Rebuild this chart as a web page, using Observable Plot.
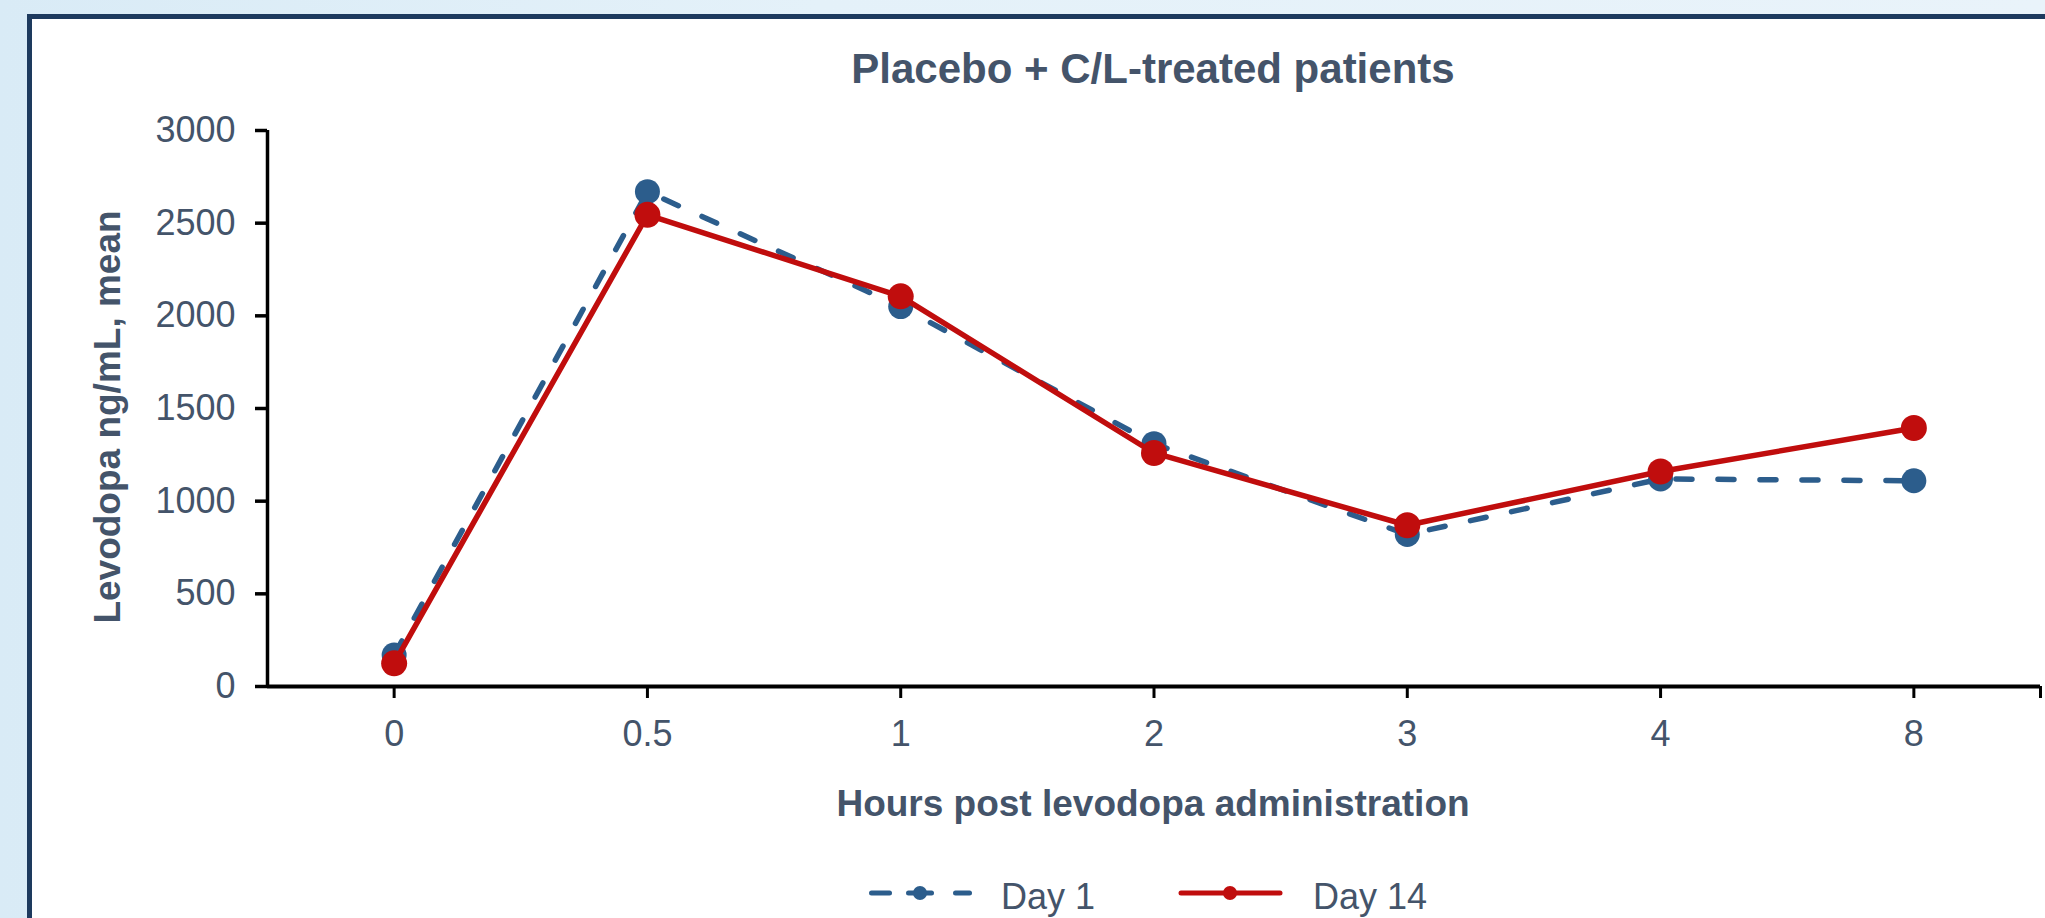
<!DOCTYPE html>
<html>
<head>
<meta charset="utf-8">
<script src="https://cdn.jsdelivr.net/npm/d3@7"></script>
<script src="https://cdn.jsdelivr.net/npm/@observablehq/plot@0.6"></script>
<style>
  html, body { margin: 0; padding: 0; }
  body {
    width: 2045px; height: 918px; overflow: hidden; position: relative;
    background: linear-gradient(90deg, #d9ebf6 0%, #e4f1f9 40%, #e9f3fa 100%);
    font-family: "Liberation Sans", Arial, sans-serif;
  }
  #panel {
    position: absolute; left: 27px; top: 14px; right: -10px; bottom: -10px;
    background: #ffffff;
    border-left: 5px solid #1d3a5e;
    border-top: 5px solid #1d3a5e;
  }
  #chart { position: absolute; left: 0; top: 0; }
</style>
</head>
<body>
<div id="panel"></div>
<div id="chart"></div>
<script>
// ---- data ----
const hours = ["0", "0.5", "1", "2", "3", "4", "8"];
const day1 = [170, 2670, 2050, 1310, 820, 1120, 1110];
const day14 = [125, 2545, 2105, 1260, 870, 1160, 1395];
const yTicks = [0, 500, 1000, 1500, 2000, 2500, 3000];
const seriesNames = ["Day 1", "Day 14"];
const title = "Placebo + C/L-treated patients";
const xTitle = "Hours post levodopa administration";
const yTitle = "Levodopa ng/mL, mean";

const blue = "#2c5d8c";
const red = "#c00d0d";
const textColor = "#44546a";

const rows1 = hours.map((h, i) => ({ i, h, v: day1[i] }));
const rows14 = hours.map((h, i) => ({ i, h, v: day14[i] }));
const xIdx = hours.map((_, i) => i);

const chart = Plot.plot({
  width: 2045,
  height: 918,
  marginLeft: 267,
  marginRight: 5,
  marginTop: 130,
  marginBottom: 232,
  style: { background: "transparent", color: textColor, fontFamily: "'Liberation Sans', Arial, sans-serif" },
  x: { type: "linear", domain: [-0.5, hours.length - 0.5], axis: null },
  y: { domain: [0, 3000], axis: null },
  marks: [
    Plot.axisY({ ticks: yTicks, tickFormat: (d) => String(d), tickSize: 12, tickPadding: 20, fontSize: 36, stroke: "#000", strokeWidth: 3.5, fill: textColor, label: null }),
    Plot.axisX({ ticks: xIdx.concat([hours.length - 0.5]), tickFormat: (d) => hours[d] ?? "", tickSize: 12, tickPadding: 22, fontSize: 36, stroke: "#000", strokeWidth: 3, fill: textColor, label: null }),
    Plot.ruleX([-0.5], { stroke: "#000", strokeWidth: 3.5 }),
    Plot.ruleY([0], { stroke: "#000", strokeWidth: 4 }),
    Plot.line(rows1, { x: "i", y: "v", stroke: blue, strokeWidth: 5.5, strokeDasharray: "16,26", strokeLinecap: "round" }),
    Plot.dot(rows1, { x: "i", y: "v", r: 12.5, fill: blue }),
    Plot.line(rows14, { x: "i", y: "v", stroke: red, strokeWidth: 5.5 }),
    Plot.dot(rows14, { x: "i", y: "v", r: 13, fill: red })
  ]
});

document.getElementById("chart").appendChild(chart);

const svg = d3.select(chart);
const font = "'Liberation Sans', Arial, sans-serif";

svg.append("text").text(title)
  .attr("x", 1153).attr("y", 83).attr("text-anchor", "middle")
  .attr("font-family", font).attr("font-weight", "bold").attr("font-size", 42).attr("fill", textColor);

svg.append("text").text(xTitle)
  .attr("x", 1153).attr("y", 816).attr("text-anchor", "middle")
  .attr("font-family", font).attr("font-weight", "bold").attr("font-size", 37).attr("fill", textColor);

svg.append("text").text(yTitle)
  .attr("transform", "translate(120,417) rotate(-90)").attr("text-anchor", "middle")
  .attr("font-family", font).attr("font-weight", "bold").attr("font-size", 37).attr("fill", textColor);

// legend
const lg = svg.append("g").attr("text-anchor", "start");
const ly = 893;
[[869, 892], [906, 934], [953, 972]].forEach(([a, b]) => {
  lg.append("line").attr("x1", a + 2.5).attr("x2", b - 2.5).attr("y1", ly).attr("y2", ly)
    .attr("stroke", blue).attr("stroke-width", 5).attr("stroke-linecap", "round");
});
lg.append("circle").attr("cx", 920).attr("cy", ly).attr("r", 7).attr("fill", blue);
lg.append("text").text(seriesNames[0]).attr("x", 1001).attr("y", 909).attr("text-anchor", "start")
  .attr("font-family", font).attr("font-size", 36).attr("fill", textColor);

lg.append("line").attr("x1", 1181).attr("x2", 1280).attr("y1", ly).attr("y2", ly)
  .attr("stroke", red).attr("stroke-width", 5).attr("stroke-linecap", "round");
lg.append("circle").attr("cx", 1230).attr("cy", ly).attr("r", 7).attr("fill", red);
lg.append("text").text(seriesNames[1]).attr("x", 1313).attr("y", 909).attr("text-anchor", "start")
  .attr("font-family", font).attr("font-size", 36).attr("fill", textColor);
</script>
</body>
</html>
